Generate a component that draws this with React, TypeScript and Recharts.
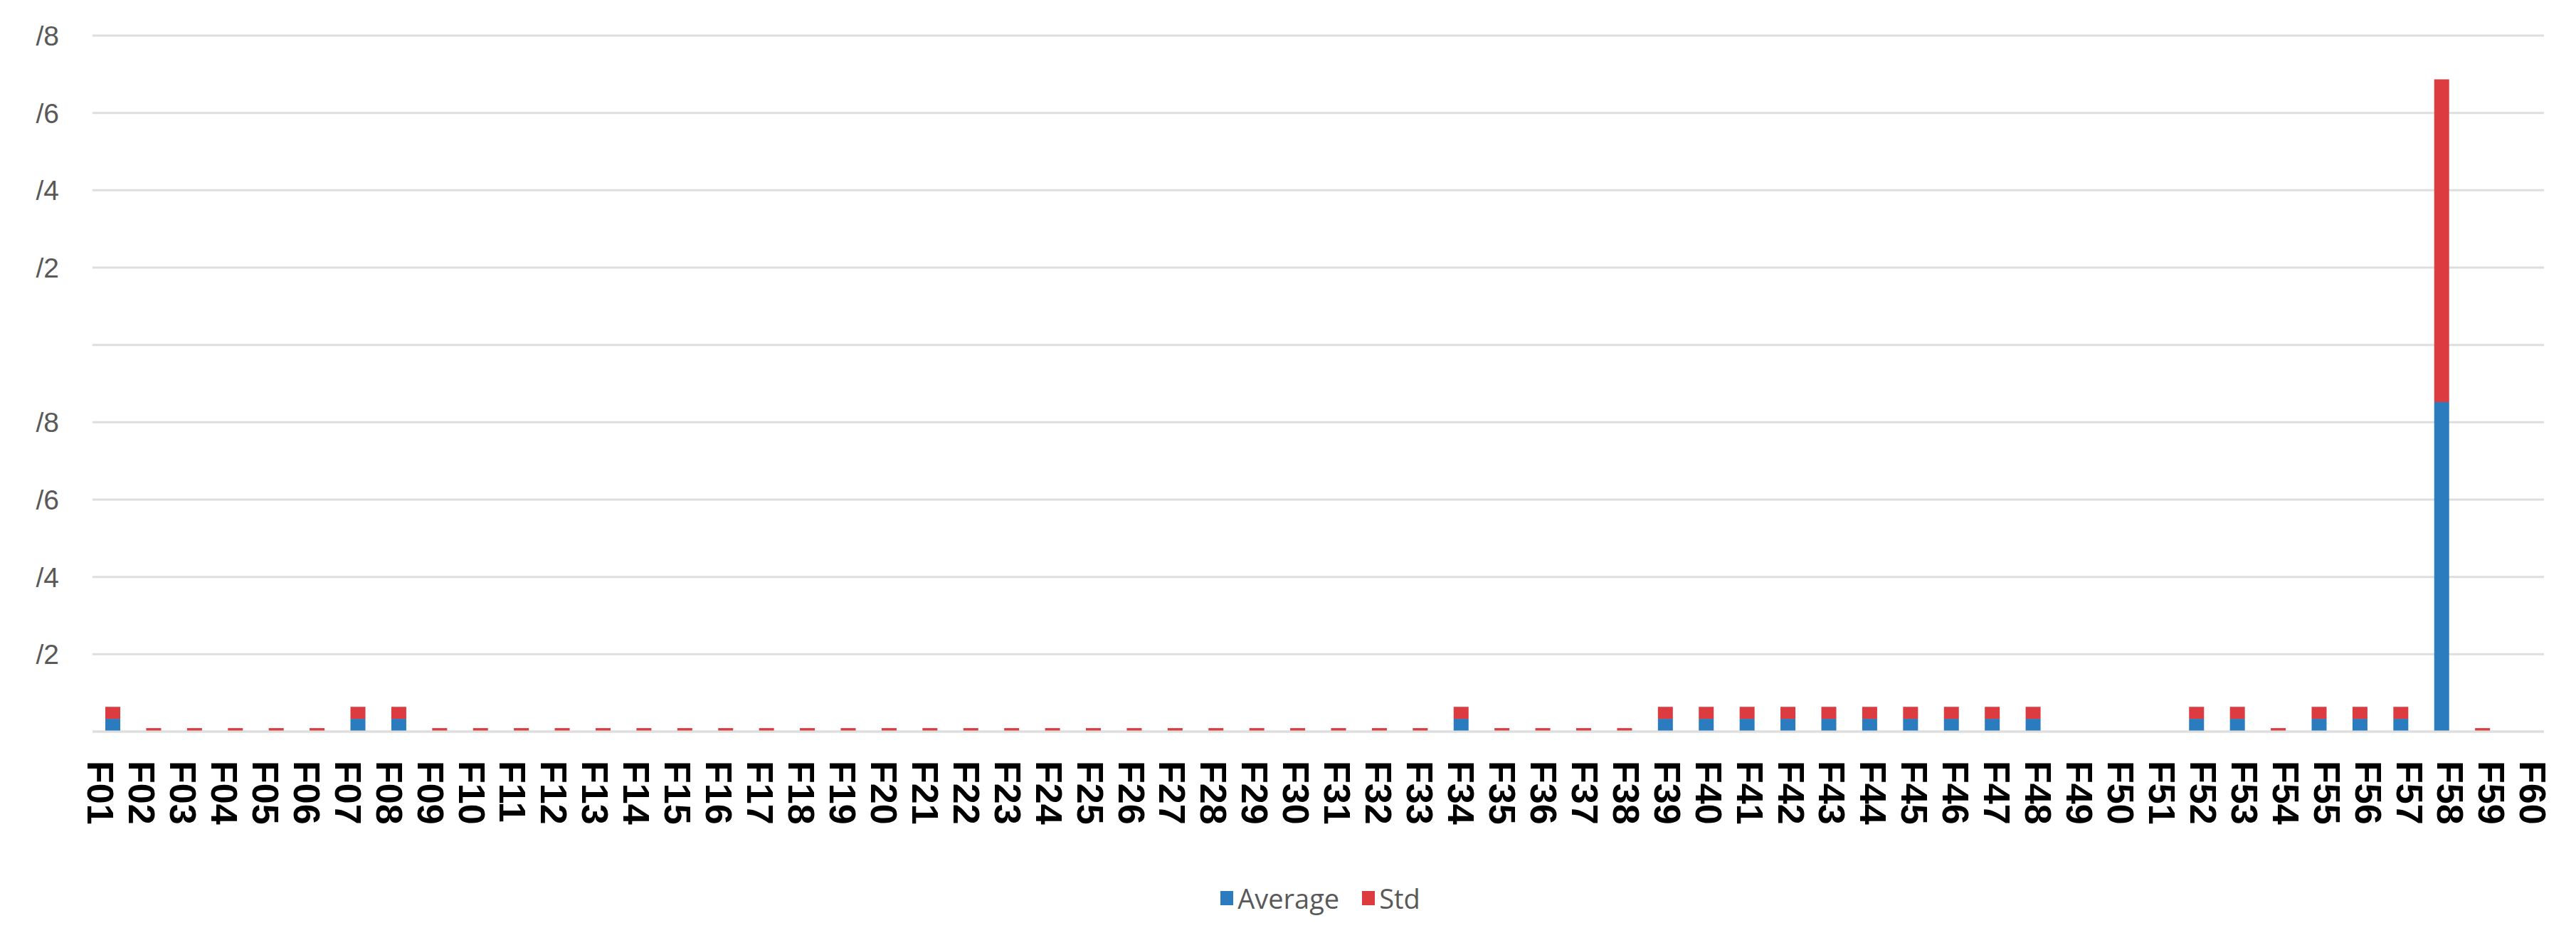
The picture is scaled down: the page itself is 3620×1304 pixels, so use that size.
import React from 'react';
import { BarChart, Bar, XAxis, YAxis, CartesianGrid, Legend } from 'recharts';

const categories = [
  'F01', 'F02', 'F03', 'F04', 'F05', 'F06', 'F07', 'F08', 'F09', 'F10',
  'F11', 'F12', 'F13', 'F14', 'F15', 'F16', 'F17', 'F18', 'F19', 'F20',
  'F21', 'F22', 'F23', 'F24', 'F25', 'F26', 'F27', 'F28', 'F29', 'F30',
  'F31', 'F32', 'F33', 'F34', 'F35', 'F36', 'F37', 'F38', 'F39', 'F40',
  'F41', 'F42', 'F43', 'F44', 'F45', 'F46', 'F47', 'F48', 'F49', 'F50',
  'F51', 'F52', 'F53', 'F54', 'F55', 'F56', 'F57', 'F58', 'F59', 'F60',
];

const averageValues = [
  0.033, 0.002, 0.002, 0.002, 0.002, 0.002, 0.033, 0.033, 0.002, 0.002,
  0.002, 0.002, 0.002, 0.002, 0.002, 0.002, 0.002, 0.002, 0.002, 0.002,
  0.002, 0.002, 0.002, 0.002, 0.002, 0.002, 0.002, 0.002, 0.002, 0.002,
  0.002, 0.002, 0.002, 0.033, 0.002, 0.002, 0.002, 0.002, 0.033, 0.033,
  0.033, 0.033, 0.033, 0.033, 0.033, 0.033, 0.033, 0.033, 0, 0,
  0, 0.033, 0.033, 0.002, 0.033, 0.033, 0.033, 0.852, 0.002, 0,
];

const stdValues = [
  0.031, 0.007, 0.007, 0.007, 0.007, 0.007, 0.031, 0.031, 0.007, 0.007,
  0.007, 0.007, 0.007, 0.007, 0.007, 0.007, 0.007, 0.007, 0.007, 0.007,
  0.007, 0.007, 0.007, 0.007, 0.007, 0.007, 0.007, 0.007, 0.007, 0.007,
  0.007, 0.007, 0.007, 0.031, 0.007, 0.007, 0.007, 0.007, 0.031, 0.031,
  0.031, 0.031, 0.031, 0.031, 0.031, 0.031, 0.031, 0.031, 0, 0,
  0, 0.031, 0.031, 0.007, 0.031, 0.031, 0.031, 0.835, 0.007, 0,
];

const yTicks = [0, 0.2, 0.4, 0.6, 0.8, 1.0, 1.2, 1.4, 1.6, 1.8];
const yTickLabels = ['', '/2', '/4', '/6', '/8', '', '/2', '/4', '/6', '/8'];

const BLUE = '#2b7bbf';
const RED = '#dc3b3f';

const data = categories.map((name, i) => ({
  name,
  average: averageValues[i],
  std: stdValues[i],
}));

// rotated bold labels, reading top to bottom
const XTick = (props: any) => {
  const { x, y, payload, index } = props;
  const shift = -17 + 0.52 * index - 18.6;
  return (
    <text
      transform={`translate(${x + shift},${y + 39}) rotate(90)`}
      textAnchor='start'
      fontFamily='"Liberation Sans", Arial, sans-serif'
      fontWeight='bold'
      fontSize={52}
      fill='#000'
    >
      {payload.value}
    </text>
  );
};

const renderLegend = () => (
  <div
    style={{
      display: 'flex',
      justifyContent: 'center',
      alignItems: 'center',
      paddingLeft: 136,
      height: 46,
      fontFamily: '"Open Sans", sans-serif',
      fontSize: 38,
      color: '#595959',
    }}
  >
    <span style={{ width: 18, height: 20, background: BLUE, marginRight: 6 }} />
    <span>Average</span>
    <span
      style={{ width: 18, height: 20, background: RED, marginLeft: 32, marginRight: 6 }}
    />
    <span>Std</span>
  </div>
);

export default function App() {
  return (
    <div style={{ position: 'absolute', left: 0, top: 0, background: '#fff' }}>
      <BarChart
        width={3620}
        height={1304}
        data={data}
        margin={{ top: 50, right: 45, left: 0, bottom: 19 }}
      >
        <CartesianGrid vertical={false} stroke='#dedede' strokeWidth={3} />
        <YAxis
          width={130}
          domain={[0, 1.8]}
          ticks={yTicks}
          axisLine={false}
          tickLine={false}
          tickSize={0}
          tickMargin={47}
          tickFormatter={(v: number) => yTickLabels[yTicks.indexOf(v)] ?? ''}
          tick={{
            fill: '#595959',
            fontSize: 39,
            fontFamily: '"Liberation Sans", Arial, sans-serif',
          }}
        />
        <XAxis
          dataKey='name'
          interval={0}
          height={211}
          axisLine={{ stroke: '#dedede', strokeWidth: 3 }}
          tickLine={false}
          tickSize={0}
          tick={<XTick />}
        />
        <Legend verticalAlign='bottom' height={46} content={renderLegend} />
        <Bar dataKey='average' stackId='a' fill={BLUE} barSize={21} isAnimationActive={false} />
        <Bar dataKey='std' stackId='a' fill={RED} barSize={21} isAnimationActive={false} />
      </BarChart>
    </div>
  );
}
